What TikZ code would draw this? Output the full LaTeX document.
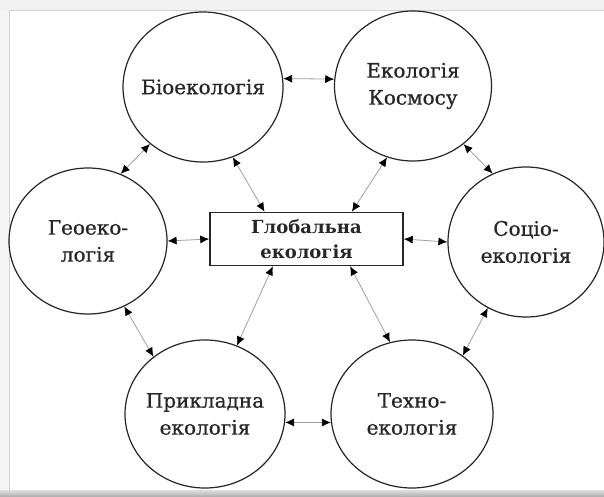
\documentclass[tikz,border=0pt]{standalone}
\usepackage{fontspec}
\setmainfont{DejaVu Serif}
\newfontfamily\semib[FakeBold=0.7]{DejaVu Serif}
\usetikzlibrary{shapes.geometric,arrows.meta}
\definecolor{ink}{HTML}{262626}
\definecolor{conn}{HTML}{A0A0A0}
\tikzset{
  topictext/.style={align=center, text=ink, inner sep=0pt, font=\semib\fontsize{20}{27}\selectfont},
  topic/.style={ellipse, draw=ink, line width=1.2pt, minimum width=160pt, minimum height=150pt, inner sep=0pt, label={[topictext]center:#1}},
  hub/.style={rectangle, draw=ink, line width=1.5pt, minimum width=193pt, minimum height=53pt, inner sep=0pt, align=center, text=ink, font=\bfseries\fontsize{18}{25}\selectfont},
  link/.style={draw=conn, line width=0.8pt, {Latex[length=9pt,width=8pt,fill=black,color=black]}-{Latex[length=9pt,width=8pt,fill=black,color=black]}}
}
\begin{document}
\begin{tikzpicture}[x=1pt,y=-1pt]
\useasboundingbox (0,0) rectangle (604,497);
% frame
\fill[white] (0,0) rectangle (604,497);
\fill[gray!10] (0,0) rectangle (604,10);
\fill[gray!8] (0,10) rectangle (9,490);
\draw[gray!35, line width=0.6pt] (9,490) -- (9,10) -- (604,10);
\shade[top color=gray!25, bottom color=gray!65] (0,490) rectangle (604,497);
% nodes
\node[topic={Біоекологія}] (bio) at (203,87) {};
\node[topic={Екологія\\Космосу}, minimum width=157pt] (kos) at (413,86) {};
\node[topic={Геоеко-\\логія}, minimum height=146pt, minimum width=158pt] (geo) at (88,241) {};
\node[topic={Соціо-\\екологія}, minimum width=156pt] (soc) at (526,242) {};
\node[topic={Прикладна\\екологія}, minimum height=148pt] (pry) at (205,414) {};
\node[topic={Техно-\\екологія}, minimum width=162pt, minimum height=148pt] (tex) at (412,414) {};
\node[hub] (hub) at (306.5,239) {Глобальна\\екологія};
% connectors
\draw[link] (bio.6) -- (kos.175);
\draw[link] (bio.227) -- (geo.64);
\draw[link] (bio.293) -- (hub.147);
\draw[link] (hub.31) -- (kos.250);
\draw[link] (kos.311) -- (soc.116);
\draw[link] (geo.east) -- (hub.west);
\draw[link] (hub.east) -- (soc.west);
\draw[link] (geo.299) -- (pry.132);
\draw[link] (hub.219) -- (pry.65);
\draw[link] (hub.328) -- (tex.107);
\draw[link] (soc.240) -- (tex.49);
\draw[link] (pry.354) -- (tex.186);
\end{tikzpicture}
\end{document}
